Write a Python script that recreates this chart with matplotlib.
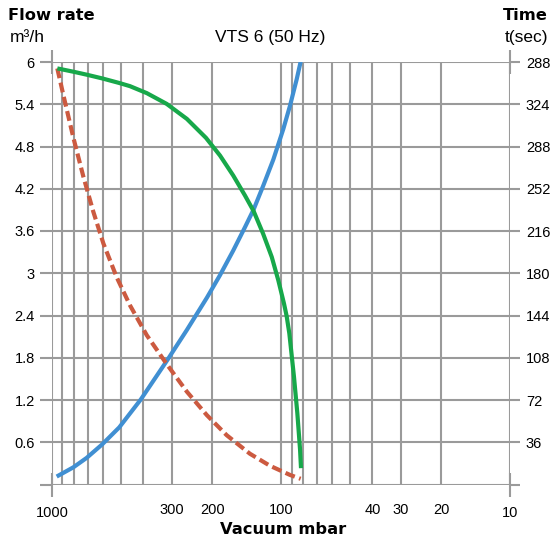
import matplotlib
matplotlib.use("Agg")
import matplotlib.pyplot as plt
from matplotlib.ticker import FixedLocator, FixedFormatter

# x axis (vacuum, mbar) - log, reversed
vacuum_grid = [900, 800, 700, 600, 500, 400, 300, 200, 100,
               90, 80, 70, 60, 50, 40, 30, 20]

# left axis: flow rate, right axis: time labels as printed
flow_ticks = [0.6, 1.2, 1.8, 2.4, 3, 3.6, 4.2, 4.8, 5.4, 6]
flow_labels = ["0.6", "1.2", "1.8", "2.4", "3", "3.6", "4.2", "4.8", "5.4", "6"]
time_labels = ["36", "72", "108", "144", "180", "216", "252", "288", "324", "288"]

# green: flow rate curve
green_p = [948, 807, 706, 604, 509, 457, 386, 316, 258, 213, 185, 162, 144, 132,
           120, 110, 103, 97.3, 94.7, 92.2, 88.0, 85.1, 82.8, 82.0]
green_q = [5.909, 5.862, 5.820, 5.767, 5.702, 5.657, 5.558, 5.405, 5.192, 4.923,
           4.672, 4.388, 4.105, 3.883, 3.562, 3.231, 2.900, 2.570, 2.390, 2.145,
           1.530, 1.016, 0.499, 0.232]

# blue: pump down time curve
blue_p = [954, 807, 706, 604, 509, 410, 314, 258, 211, 185, 162, 144, 132,
          120, 108.3, 98.0, 91.6, 85.6, 82.3]
blue_q = [0.113, 0.244, 0.378, 0.570, 0.811, 1.207, 1.767, 2.195, 2.653, 2.973,
          3.322, 3.653, 3.905, 4.238, 4.614, 5.046, 5.378, 5.757, 6.004]

# red dashed
red_p = [948, 893, 807, 730, 661, 597, 522, 457, 386, 316, 258, 211, 173,
         137, 112, 91.6, 82.3]
red_q = [5.909, 5.536, 4.926, 4.374, 3.878, 3.424, 2.942, 2.545, 2.120, 1.710,
         1.318, 0.984, 0.700, 0.437, 0.266, 0.136, 0.081]

GRID = "#9a9a9a"
GREEN = "#17a84a"
BLUE = "#408fd2"
RED = "#cc5a40"
NARROW = "Liberation Sans"
BOLD = "DejaVu Sans"
TICK_FS = 10.5

fig = plt.figure(figsize=(5.52, 5.42), dpi=100)
W, H = 552, 542
ax = fig.add_axes([52 / W, (H - 484.5) / H, (510.5 - 52) / W, (484.5 - 62) / H])

ax.set_xscale("log")
ax.set_xlim(1000, 10)
ax.set_ylim(0, 6)

for s in ax.spines.values():
    s.set_visible(False)

# grid lines
for v in vacuum_grid:
    ax.axvline(v, color=GRID, lw=1.5, zorder=1)
for f in [0] + flow_ticks:
    ax.axhline(f, color=GRID, lw=1.5, zorder=1)
ax.axvline(1000, color=GRID, lw=1.5, zorder=1)
ax.axvline(10, color=GRID, lw=1.5, zorder=1)

# x ticks: long marks only at the ends, other labels from minor ticks
ax.xaxis.set_major_locator(FixedLocator([1000, 10]))
ax.xaxis.set_major_formatter(FixedFormatter(["1000", "10"]))
ax.xaxis.set_minor_locator(FixedLocator([300, 200, 100, 40, 30, 20]))
ax.xaxis.set_minor_formatter(FixedFormatter(["300", "200", "100", "40", "30", "20"]))
ax.tick_params(axis="x", which="major", direction="inout", length=17, width=1.5,
               color=GRID, top=True, labeltop=False, pad=7)
ax.tick_params(axis="x", which="minor", length=0, pad=13)
for lbl in ax.get_xticklabels(which="both"):
    lbl.set_fontfamily(NARROW)
    lbl.set_fontsize(TICK_FS)

# left / right y ticks
ax.set_yticks([0] + flow_ticks)
ax.set_yticklabels([""] + flow_labels, family=NARROW, fontsize=TICK_FS)
ax.tick_params(axis="y", direction="out", length=8.5, width=1.5, color=GRID, pad=4)

ax2 = ax.twinx()
ax2.set_ylim(0, 6)
for s in ax2.spines.values():
    s.set_visible(False)
ax2.set_yticks([0] + flow_ticks)
ax2.set_yticklabels([""] + time_labels, family=NARROW, fontsize=TICK_FS)
ax2.tick_params(axis="y", direction="out", length=7.5, width=1.5, color=GRID, pad=3.5)

# curves
ax.plot(blue_p, blue_q, color=BLUE, lw=3, solid_capstyle="butt",
        solid_joinstyle="round", zorder=3)
ax.plot(red_p, red_q, color=RED, lw=3, linestyle=(0, (2.4, 1.1)),
        dash_joinstyle="round", zorder=4)
ax.plot(green_p, green_q, color=GREEN, lw=3, solid_capstyle="butt",
        solid_joinstyle="round", zorder=5)

# texts
fig.text(8 / W, 1 - 15 / H, "Flow rate", family=BOLD, weight="bold", fontsize=11.7,
         ha="left", va="center")
fig.text(10 / W, 1 - 38 / H, "m³/h", family=NARROW, fontsize=12.5, ha="left", va="center")
fig.text(270 / W, 1 - 38 / H, "VTS 6 (50 Hz)", family=NARROW, fontsize=12.5,
         ha="center", va="center")
fig.text(548 / W, 1 - 15 / H, "Time", family=BOLD, weight="bold", fontsize=11.7,
         ha="right", va="center")
fig.text(548 / W, 1 - 38 / H, "t(sec)", family=NARROW, fontsize=12.5, ha="right", va="center")
fig.text(283 / W, 1 - 530 / H, "Vacuum mbar", family=BOLD, weight="bold", fontsize=11.7,
         ha="center", va="center")

fig.savefig("out.png", dpi=100)
